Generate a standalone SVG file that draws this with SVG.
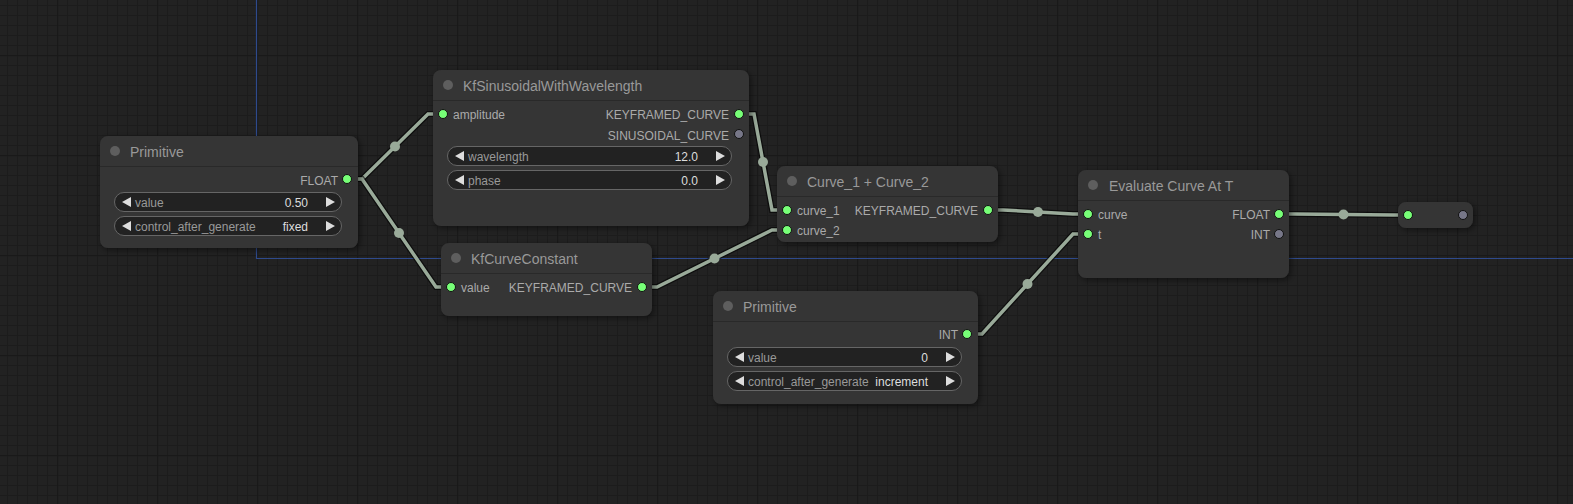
<svg xmlns="http://www.w3.org/2000/svg" width="1573" height="504" viewBox="0 0 1573 504">
<defs>
<pattern id="minor" width="10" height="10" patternUnits="userSpaceOnUse" x="7" y="5">
<rect width="10" height="10" fill="#222222"/>
<path d="M0 0.5H10M0.5 0V10" stroke="#1c1c1c" stroke-width="1" fill="none"/>
</pattern>
<pattern id="major" width="100" height="100" patternUnits="userSpaceOnUse" x="57" y="55">
<path d="M0 0.5H100M0.5 0V100" stroke="#191919" stroke-width="1.6" fill="none"/>
</pattern>
<filter id="sh" x="-10%" y="-20%" width="120%" height="150%">
<feDropShadow dx="2" dy="2" stdDeviation="3" flood-color="#000" flood-opacity="0.5"/>
</filter>
</defs>
<style>
.node{fill:#353535;filter:url(#sh)}
.sep{stroke:#292929;stroke-width:1}
.tdot{fill:#5e5e5e}
.title{font-family:"Liberation Sans",Arial,sans-serif;font-size:14px;fill:#999999}
.slot{font-family:"Liberation Sans",Arial,sans-serif;font-size:12px;fill:#aaaaaa}
.out{text-anchor:end}
.on{fill:#77ff77;stroke:#111;stroke-width:1}
.off{fill:#777788;stroke:#111;stroke-width:1}
.wbox{fill:#222222;stroke:#666666;stroke-width:1}
.wl{font-family:"Liberation Sans",Arial,sans-serif;font-size:12px;fill:#999999}
.wv{font-family:"Liberation Sans",Arial,sans-serif;font-size:12px;fill:#dddddd;text-anchor:end}
.arr{fill:#dddddd}
.lb{fill:none;stroke:#000;stroke-opacity:0.6;stroke-width:6;stroke-linejoin:miter}
.lk{fill:none;stroke:#99aa99;stroke-width:3.5;stroke-linejoin:miter}
.mid{fill:#99aa99}
</style>
<rect width="1573" height="504" fill="url(#minor)"/>
<rect width="1573" height="504" fill="url(#major)"/>
<path d="M256.5 0V258.5H1573" fill="none" stroke="#2e4a8c" stroke-width="1.2"/>

<g id="links">
<path class="lb" d="M347 179L362 179L428 114L443 114"/>
<path class="lk" d="M347 179L362 179L428 114L443 114"/>
<circle class="mid" cx="395" cy="146.5" r="5"/>
<path class="lb" d="M347 179L362 179L436 287L451 287"/>
<path class="lk" d="M347 179L362 179L436 287L451 287"/>
<circle class="mid" cx="399" cy="233" r="5"/>
<path class="lb" d="M739 114L754 114L772 210L787 210"/>
<path class="lk" d="M739 114L754 114L772 210L787 210"/>
<circle class="mid" cx="763" cy="162" r="5"/>
<path class="lb" d="M642 287L657 287L772 230L787 230"/>
<path class="lk" d="M642 287L657 287L772 230L787 230"/>
<circle class="mid" cx="714.5" cy="258.5" r="5"/>
<path class="lb" d="M988 210L1003 210L1073 214L1088 214"/>
<path class="lk" d="M988 210L1003 210L1073 214L1088 214"/>
<circle class="mid" cx="1038" cy="212" r="5"/>
<path class="lb" d="M967 334L982 334L1073 234L1088 234"/>
<path class="lk" d="M967 334L982 334L1073 234L1088 234"/>
<circle class="mid" cx="1027.5" cy="284" r="5"/>
<path class="lb" d="M1279 214L1294 214L1393 215L1408 215"/>
<path class="lk" d="M1279 214L1294 214L1393 215L1408 215"/>
<circle class="mid" cx="1343.5" cy="214.5" r="5"/>
</g>

<g id="primitive1">
<rect class="node" x="100" y="136" width="258" height="112" rx="8"/>
<line class="sep" x1="100" y1="166.5" x2="358" y2="166.5"/>
<circle class="tdot" cx="115" cy="151" r="5"/>
<text class="title" x="130" y="156.5">Primitive</text>
<text class="slot out" x="338" y="184.5">FLOAT</text>
<circle class="on" cx="347" cy="179" r="4.5"/>
<rect class="wbox" x="114.5" y="192.5" width="227" height="19" rx="9.5"/>
<path class="arr" d="M122 202L131 197V207Z"/>
<path class="arr" d="M335 202L326 197V207Z"/>
<text class="wl" x="135" y="206.5">value</text>
<text class="wv" x="308" y="206.5">0.50</text>
<rect class="wbox" x="114.5" y="216.5" width="227" height="19" rx="9.5"/>
<path class="arr" d="M122 226L131 221V231Z"/>
<path class="arr" d="M335 226L326 221V231Z"/>
<text class="wl" x="135" y="230.5">control_after_generate</text>
<text class="wv" x="308" y="230.5">fixed</text>
</g>

<g id="kfsinusoidal">
<rect class="node" x="433" y="70" width="316" height="156" rx="8"/>
<line class="sep" x1="433" y1="100.5" x2="749" y2="100.5"/>
<circle class="tdot" cx="448" cy="85" r="5"/>
<text class="title" x="463" y="90.5">KfSinusoidalWithWavelength</text>
<circle class="on" cx="443" cy="114" r="4.5"/>
<text class="slot" x="453" y="119">amplitude</text>
<text class="slot out" x="729" y="119">KEYFRAMED_CURVE</text>
<circle class="on" cx="739" cy="114" r="4.5"/>
<text class="slot out" x="729" y="139.5">SINUSOIDAL_CURVE</text>
<circle class="off" cx="739" cy="134" r="4.5"/>
<rect class="wbox" x="447.5" y="146.5" width="284" height="19" rx="9.5"/>
<path class="arr" d="M455 156L464 151V161Z"/>
<path class="arr" d="M725 156L716 151V161Z"/>
<text class="wl" x="468" y="160.5">wavelength</text>
<text class="wv" x="698" y="160.5">12.0</text>
<rect class="wbox" x="447.5" y="170.5" width="284" height="19" rx="9.5"/>
<path class="arr" d="M455 180L464 175V185Z"/>
<path class="arr" d="M725 180L716 175V185Z"/>
<text class="wl" x="468" y="184.5">phase</text>
<text class="wv" x="698" y="184.5">0.0</text>
</g>

<g id="kfcurveconstant">
<rect class="node" x="441" y="243" width="211" height="73" rx="8"/>
<line class="sep" x1="441" y1="273.5" x2="652" y2="273.5"/>
<circle class="tdot" cx="456" cy="258" r="5"/>
<text class="title" x="471" y="263.5">KfCurveConstant</text>
<circle class="on" cx="451" cy="287" r="4.5"/>
<text class="slot" x="461" y="292">value</text>
<text class="slot out" x="632" y="292">KEYFRAMED_CURVE</text>
<circle class="on" cx="642" cy="287" r="4.5"/>
</g>

<g id="curveadd">
<rect class="node" x="777" y="166" width="221" height="76" rx="8"/>
<line class="sep" x1="777" y1="196.5" x2="998" y2="196.5"/>
<circle class="tdot" cx="792" cy="181" r="5"/>
<text class="title" x="807" y="186.5">Curve_1 + Curve_2</text>
<circle class="on" cx="787" cy="210" r="4.5"/>
<text class="slot" x="797" y="215">curve_1</text>
<circle class="on" cx="787" cy="230" r="4.5"/>
<text class="slot" x="797" y="235">curve_2</text>
<text class="slot out" x="978" y="215">KEYFRAMED_CURVE</text>
<circle class="on" cx="988" cy="210" r="4.5"/>
</g>

<g id="primitive2">
<rect class="node" x="713" y="291" width="265" height="113" rx="8"/>
<line class="sep" x1="713" y1="321.5" x2="978" y2="321.5"/>
<circle class="tdot" cx="728" cy="306" r="5"/>
<text class="title" x="743" y="311.5">Primitive</text>
<text class="slot out" x="958" y="339">INT</text>
<circle class="on" cx="967" cy="334" r="4.5"/>
<rect class="wbox" x="727.5" y="347.5" width="234" height="19" rx="9.5"/>
<path class="arr" d="M735 357L744 352V362Z"/>
<path class="arr" d="M955 357L946 352V362Z"/>
<text class="wl" x="748" y="361.5">value</text>
<text class="wv" x="928" y="361.5">0</text>
<rect class="wbox" x="727.5" y="371.5" width="234" height="19" rx="9.5"/>
<path class="arr" d="M735 381L744 376V386Z"/>
<path class="arr" d="M955 381L946 376V386Z"/>
<text class="wl" x="748" y="385.5">control_after_generate</text>
<text class="wv" x="928" y="385.5">increment</text>
</g>

<g id="evaluate">
<rect class="node" x="1078" y="170" width="211" height="108" rx="8"/>
<line class="sep" x1="1078" y1="200.5" x2="1289" y2="200.5"/>
<circle class="tdot" cx="1093" cy="185" r="5"/>
<text class="title" x="1109" y="190.5">Evaluate Curve At T</text>
<circle class="on" cx="1088" cy="214" r="4.5"/>
<text class="slot" x="1098" y="219">curve</text>
<circle class="on" cx="1088" cy="234" r="4.5"/>
<text class="slot" x="1098" y="239">t</text>
<text class="slot out" x="1270" y="219">FLOAT</text>
<circle class="on" cx="1279" cy="214" r="4.5"/>
<text class="slot out" x="1270" y="239">INT</text>
<circle class="off" cx="1279" cy="234" r="4.5"/>
</g>

<g id="reroute">
<rect class="node" x="1398" y="202" width="75" height="26" rx="8"/>
<circle class="on" cx="1408" cy="215" r="4.5"/>
<circle class="off" cx="1463" cy="215" r="4.5"/>
</g>
</svg>
